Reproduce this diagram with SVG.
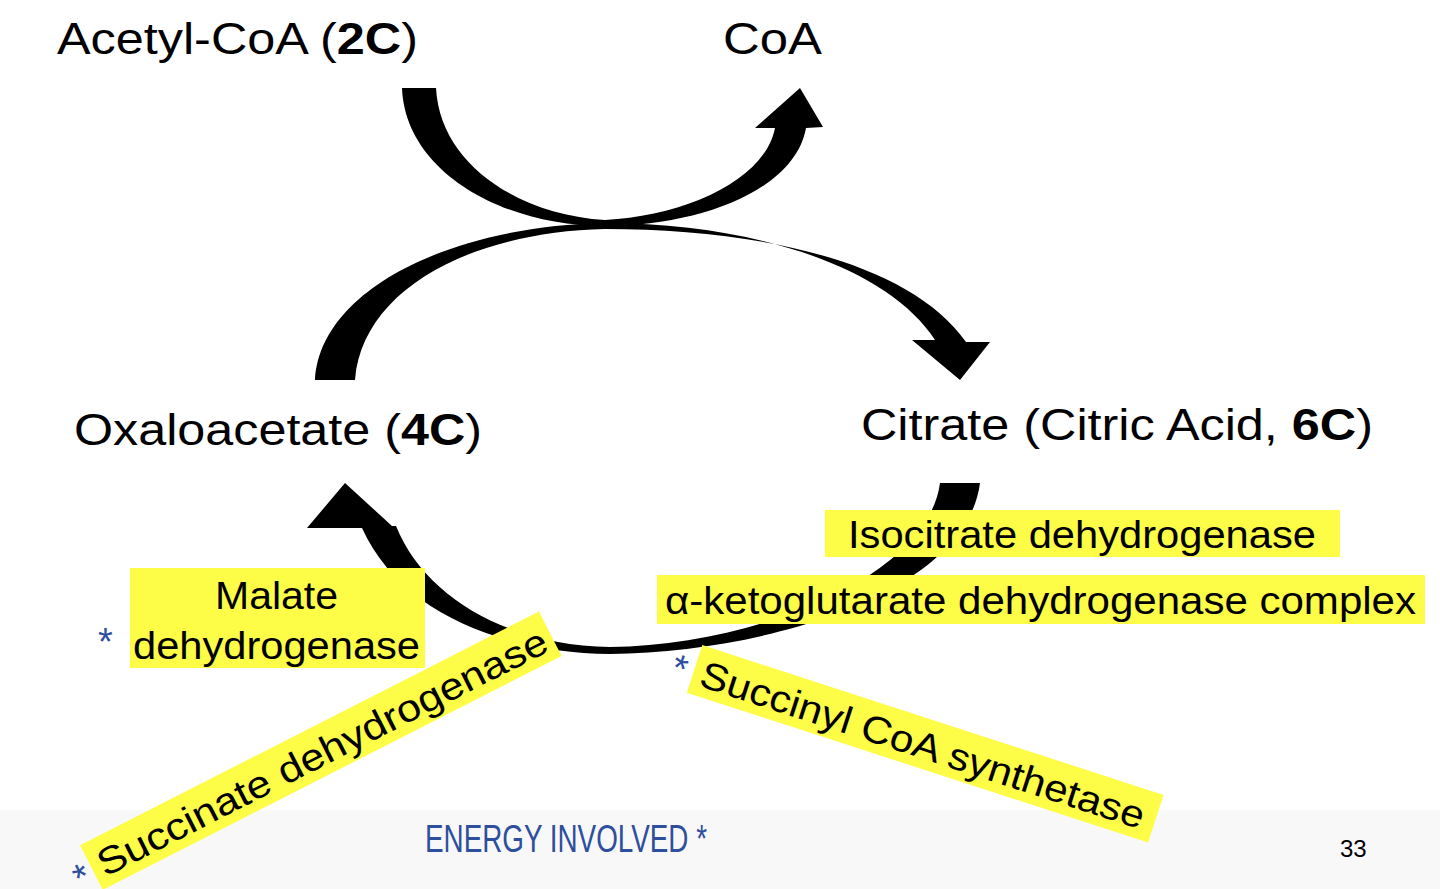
<svg xmlns="http://www.w3.org/2000/svg" width="1440" height="889" viewBox="0 0 1440 889">
<style>
.t{font-family:"Liberation Sans",Arial,sans-serif;fill:#000}
.big{font-size:45px}
.enz{font-size:38px}
.hl{fill:#fdfc47}
.hand{font-family:"Liberation Sans",Arial,sans-serif;fill:#2d4f9e;font-size:38px}
.arr{fill:#000}
</style>
<rect width="1440" height="889" fill="#fff"/>
<rect y="810" width="1440" height="79" fill="#f8f8f8"/>
<g id="connectors">
<path class="arr" d="M402,88 L436,88 C440,165 520,215 605,220 C685,216 765,180 775,128 L755,128 L800,88 L823,127 L806,128 C795,190 700,226 605,226 C500,226 405,170 402,88 Z"/>
<path class="arr" d="M315,380 C320,290 450,226 605,223 C760,223 890,270 935,340 L912,340 L960,380 L990,342 L966,342 C910,262 760,229 605,229 C470,232 362,290 355,380 Z"/>
<path class="arr" d="M940,483 L980,483 C966,592 770,652 610,654 C500,652 400,612 362,528 L307,528 L345,483 L392,526 L396,526 C425,598 510,646 610,647 C760,645 928,575 940,483 Z"/>
</g>
<g id="acetyl"><text class="t big" x="57" y="54" textLength="361" lengthAdjust="spacingAndGlyphs">Acetyl-CoA (<tspan font-weight="bold">2C</tspan>)</text></g>
<g id="coa"><text class="t big" x="723" y="54" textLength="99" lengthAdjust="spacingAndGlyphs">CoA</text></g>
<g id="oxaloacetate"><text class="t big" x="74" y="445" textLength="408" lengthAdjust="spacingAndGlyphs">Oxaloacetate (<tspan font-weight="bold">4C</tspan>)</text></g>
<g id="citrate"><text class="t big" x="861" y="440" textLength="512" lengthAdjust="spacingAndGlyphs">Citrate (Citric Acid, <tspan font-weight="bold">6C</tspan>)</text></g>
<g id="isocitrate"><rect class="hl" x="825" y="510" width="515" height="47"/><text class="t enz" x="848" y="548" textLength="468" lengthAdjust="spacingAndGlyphs">Isocitrate dehydrogenase</text></g>
<g id="aketo"><rect class="hl" x="657" y="575" width="768" height="49"/><text class="t enz" x="665" y="614" textLength="751" lengthAdjust="spacingAndGlyphs">α-ketoglutarate dehydrogenase complex</text></g>
<g id="malate"><rect class="hl" x="130" y="568" width="295" height="100"/><text class="t enz" x="215" y="609" textLength="123" lengthAdjust="spacingAndGlyphs">Malate</text><text class="t enz" x="133" y="659" textLength="287" lengthAdjust="spacingAndGlyphs">dehydrogenase</text><text class="hand" x="98" y="655">*</text></g>
<g id="succinate" transform="translate(100,880) rotate(-27)"><rect class="hl" x="-2" y="-40" width="515" height="50"/><text class="t enz" x="6" y="0" textLength="500" lengthAdjust="spacingAndGlyphs">Succinate dehydrogenase</text><text class="hand" x="-22" y="2">*</text></g>
<g id="succinyl" transform="translate(700,678) rotate(18)"><rect class="hl" x="-8" y="-32" width="485" height="50"/><text class="t enz" x="0" y="8" textLength="465" lengthAdjust="spacingAndGlyphs">Succinyl CoA synthetase</text><text class="hand" x="-30" y="10">*</text></g>
<g id="energy"><text class="hand" x="425" y="852" font-size="44" textLength="282" lengthAdjust="spacingAndGlyphs">ENERGY INVOLVED *</text></g>
<text class="t" x="1340" y="857" font-size="24">33</text>
</svg>
